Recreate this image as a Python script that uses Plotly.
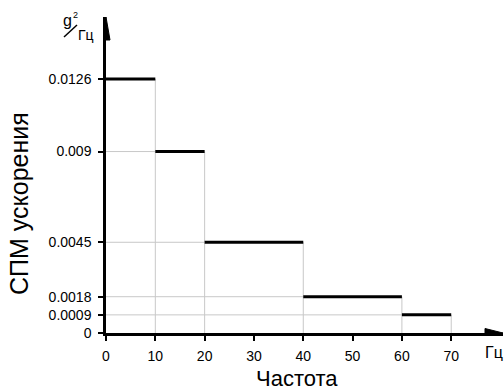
import plotly.graph_objects as go

# ---- data ----
freq_start = [0, 10, 20, 40, 60]
freq_end = [10, 20, 40, 60, 70]
psd = [0.0126, 0.009, 0.0045, 0.0018, 0.0009]
x_ticks = [0, 10, 20, 30, 40, 50, 60, 70]
y_ticks = [0, 0.0009, 0.0018, 0.0045, 0.009, 0.0126]
y_ticktext = ["0", "0.0009", "0.0018", "0.0045", "0.009", "0.0126"]

W, H = 504, 391
ML, MR, MT, MB = 106, 1, 17, 58
XMAX = 80.5
YMAX = 0.015675
FONT = "Liberation Sans, Arial, sans-serif"
GRID = "#c8c8c8"

fig = go.Figure()

# light guide lines: horizontal from axis to start of each step, vertical from axis to each step end
for i in range(len(psd)):
    if freq_start[i] > 0:
        fig.add_trace(go.Scatter(x=[0, freq_start[i]], y=[psd[i], psd[i]], mode="lines",
                                 line=dict(color=GRID, width=1), hoverinfo="skip", showlegend=False))
    fig.add_trace(go.Scatter(x=[freq_end[i], freq_end[i]], y=[0, psd[i]], mode="lines",
                             line=dict(color=GRID, width=1), hoverinfo="skip", showlegend=False))

# step levels
for i in range(len(psd)):
    fig.add_trace(go.Scatter(x=[freq_start[i], freq_end[i]], y=[psd[i], psd[i]], mode="lines",
                             line=dict(color="black", width=3), hoverinfo="skip", showlegend=False))

pw = W - ML - MR
ph = H - MT - MB


def px(xp):
    return (xp - ML) / pw


def py(yp):
    return (H - MB - yp) / ph


# arrowheads (pixel-sized shapes anchored at axis ends)
fig.add_shape(type="path", xref="x", yref="y", xsizemode="pixel", ysizemode="pixel",
              xanchor=0, yanchor=YMAX, path="M -4 -23 L 4 -23 L 0 0 Z",
              fillcolor="black", line=dict(color="black", width=1))
fig.add_shape(type="path", xref="x", yref="y", xsizemode="pixel", ysizemode="pixel",
              xanchor=XMAX, yanchor=0, path="M -18 -4.5 L -18 4.5 L 0 0 Z",
              fillcolor="black", line=dict(color="black", width=1))

# slash of the unit fraction g²/Гц
fig.add_shape(type="line", xref="paper", yref="paper", x0=px(64), y0=py(37), x1=px(77), y1=py(25),
              line=dict(color="black", width=1.5))

ann = [
    dict(text="Частота", x=px(297), y=py(378), size=22),
    dict(text="СПМ ускорения", x=px(19), y=py(204), size=25, textangle=-90),
    dict(text="Гц", x=px(494), y=py(353), size=16),
    dict(text="g", x=px(67), y=py(20), size=16),
    dict(text="2", x=px(75), y=py(15), size=9),
    dict(text="Гц", x=px(86), y=py(35), size=14),
]
for a in ann:
    fig.add_annotation(text=a["text"], x=a["x"], y=a["y"], xref="paper", yref="paper",
                       showarrow=False, xanchor="center", yanchor="middle",
                       textangle=a.get("textangle", 0),
                       font=dict(family=FONT, size=a["size"], color="black"))

fig.update_layout(
    width=W, height=H,
    margin=dict(l=ML, r=MR, t=MT, b=MB, autoexpand=False),
    paper_bgcolor="white", plot_bgcolor="white",
    font=dict(family=FONT, size=14, color="black"),
    xaxis=dict(range=[0, XMAX], tickvals=x_ticks, showgrid=False, zeroline=False,
               showline=True, linecolor="black", linewidth=2.5,
               ticks="outside", ticklen=5, tickwidth=1.5, tickcolor="black",
               tickfont=dict(size=14, family=FONT), ticklabelstandoff=3),
    yaxis=dict(range=[0, YMAX], tickvals=y_ticks, ticktext=y_ticktext, showgrid=False,
               zeroline=False, showline=True, linecolor="black", linewidth=2.5,
               ticks="outside", ticklen=5, tickwidth=1.5, tickcolor="black",
               tickfont=dict(size=14, family=FONT), ticklabelstandoff=4),
)

fig.write_html("out.html")
